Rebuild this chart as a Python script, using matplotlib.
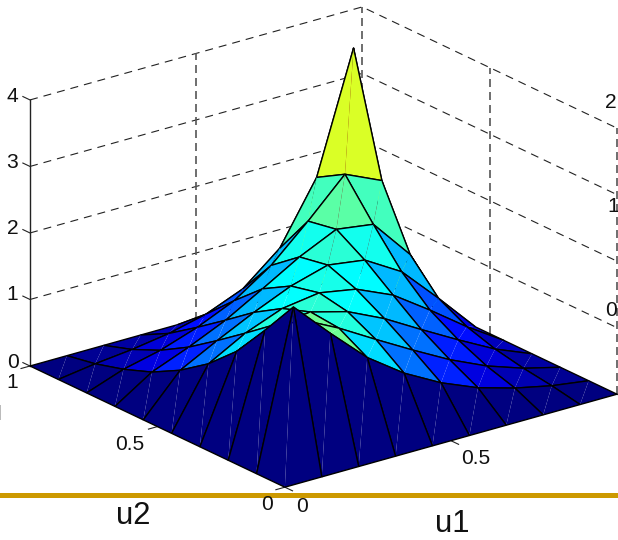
import numpy as np
import matplotlib
matplotlib.use("Agg")
import matplotlib.pyplot as plt
from matplotlib.colors import LinearSegmentedColormap
from mpl_toolkits.mplot3d import proj3d
from mpl_toolkits.mplot3d.art3d import Poly3DCollection

plt.rcParams['font.family'] = ['Liberation Sans', 'DejaVu Sans']

W, H = 618, 540

# density values, upper triangle, border is zero
grid_u = np.arange(10) / 9
row1 = [2.35, 1.80, 1.28, 0.89, 0.59, 0.36, 0.20, 0.08]
row2 = [1.80, 1.52, 1.195, 0.88, 0.58, 0.33, 0.14]
row3 = [1.56, 1.41, 1.15, 0.83, 0.52, 0.226]
row4 = [1.49, 1.39, 1.146, 0.765, 0.36]
row5 = [1.55, 1.47, 1.14, 0.585]
row6 = [1.73, 1.65, 1.04]
row7 = [2.20, 1.95]
row8 = [3.74]
rows = [row1, row2, row3, row4, row5, row6, row7, row8]

z_ticks = [0, 1, 2, 3, 4]
wall_ticks = [0, 0.5, 1]

Z = np.zeros((10, 10))
for i, r in enumerate(rows):
    for k, v in enumerate(r):
        Z[i + 1, i + 1 + k] = v
        Z[i + 1 + k, i + 1] = v

fig = plt.figure(figsize=(W / 100, H / 100), dpi=100)
ax = fig.add_axes([0, 0, 1, 1], projection='3d')
ax.set_proj_type('ortho')
ax.view_init(elev=21.4, azim=-127.5)
ax.set_box_aspect((1, 1, 0.6826))
ax.set_xlim(0, 1)
ax.set_ylim(0, 1)
ax.set_zlim(0, 4)
ax.set_axis_off()
ax.computed_zorder = False


def to_px(x, y, z):
    px, py, _ = proj3d.proj_transform(x, y, z, ax.get_proj())
    return ax.transData.transform((px, py))


# fit the axes box so the floor corners land where they are in the picture
fig.canvas.draw()
left0 = to_px(0, 1, 0)
right0 = to_px(1, 0, 0)
scale = 587 / (right0[0] - left0[0])
size = H * scale
ax.set_position([0, 0, size / W, size / H])
fig.canvas.draw()
left1 = to_px(0, 1, 0)
ax.set_position([(30 - left1[0]) / W, ((H - 366) - left1[1]) / H, size / W, size / H])
fig.canvas.draw()

# back walls
for k in z_ticks[1:]:
    ax.plot([0, 1, 1], [1, 1, 0], [k, k, k], color='#222222', lw=0.8, ls=(0, (7.2, 5.4)), zorder=1)
for u, v in [(0.5, 1), (1, 1), (1, 0.5), (1, 0)]:
    ax.plot([u, u], [v, v], [0, 4], color='#555555', lw=1.2, ls=(0, (4.8, 3)), zorder=1)
ax.plot([0, 0], [1, 1], [0, 4], color='#222222', lw=1.0, zorder=1)

# ticks
for k in z_ticks:
    ax.plot([0, 0], [1, 1.028], [k, k], color='#222222', lw=0.8, zorder=1)
for u in wall_ticks:
    ax.plot([0, -0.027], [u, u], [0, 0], color='#222222', lw=0.8, zorder=1)
    ax.plot([u, u], [0, -0.03], [0, 0], color='#222222', lw=0.8, zorder=1)

# MATLAB's jet, yellow sits lower than in matplotlib's
cmap = LinearSegmentedColormap.from_list('matlab_jet', [
    (0, (0, 0, 0.5)), (0.125, (0, 0, 1)), (0.375, (0, 1, 1)),
    (0.625, (1, 1, 0)), (0.875, (1, 0, 0)), (1, (0.5, 0, 0))])

# surface: two triangles per cell, coloured from the first corner like surf
tris = []
colors = []
for i in range(9):
    for j in range(9):
        a = (grid_u[i], grid_u[j], Z[i, j])
        b = (grid_u[i + 1], grid_u[j], Z[i + 1, j])
        c = (grid_u[i + 1], grid_u[j + 1], Z[i + 1, j + 1])
        d = (grid_u[i], grid_u[j + 1], Z[i, j + 1])
        col = cmap(Z[i, j] / Z.max())
        tris += [[a, b, c], [c, d, a]]
        colors += [col, col]
surf = Poly3DCollection(tris, closed=False, facecolors=colors, edgecolors='black',
                        linewidths=1.0, zorder=2)
ax.add_collection3d(surf)

# gold rule of the slide and the scrap at the left edge
fig.add_artist(plt.Rectangle((0, (H - 497.7) / H), 1, 4.4 / H, color='#CC9900',
                             transform=fig.transFigure, lw=0))
fig.add_artist(plt.Rectangle((0, (H - 420) / H), 1.2 / W, 15 / H, color='#BBBBBB',
                             transform=fig.transFigure, lw=0))


def label(x, y, s, size=15.1):
    fig.text(x / W, (H - y) / H, s, fontsize=size, ha='center', va='center', color='#111111')


for k, y in zip(z_ticks, [363, 295, 228, 163, 97]):
    label(12.5, y, str(k))
label(12.5, 382, '1')
label(130, 444, '0.5')
label(267, 504, '0')
label(302, 506, '0')
label(476, 459, '0.5')
label(611, 310, '0')
label(613, 207, '1')
label(611, 102, '2')
label(133, 516, 'u2', 22.3)
label(452, 524, 'u1', 22.3)

fig.savefig('out.png', dpi=100)
